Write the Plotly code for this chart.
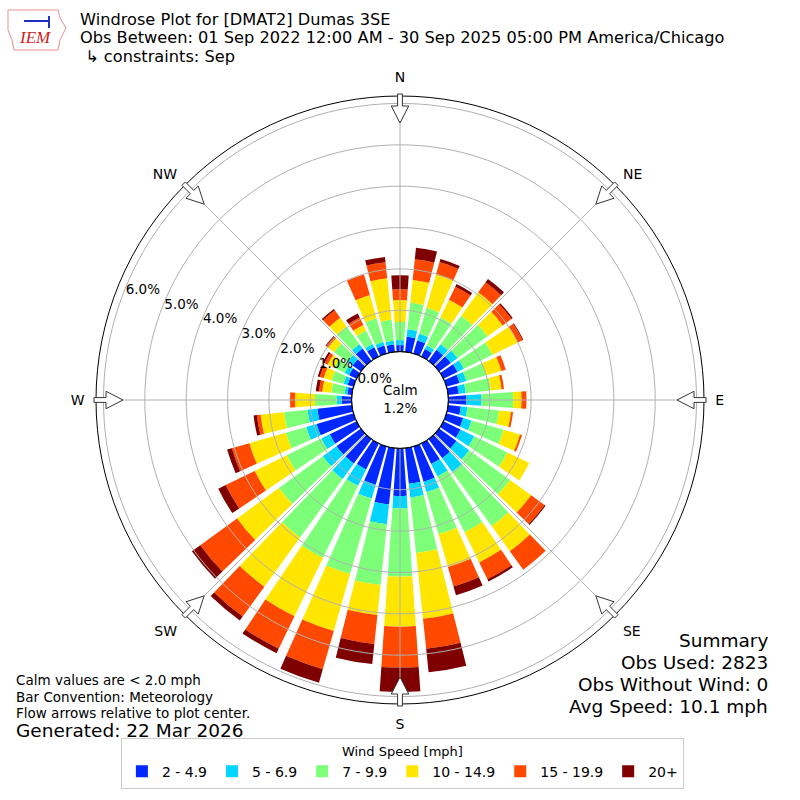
import plotly.graph_objects as go
import math

# wind directions (deg, from north, clockwise)
directions = list(range(0, 360, 10))
bins = ['2 - 4.9', '5 - 6.9', '7 - 9.9', '10 - 14.9', '15 - 19.9', '20+']
colors = ['#0028ff', '#00d4ff', '#7dff7a', '#ffe600', '#ff4800', '#7f0000']

# percent of observations per direction for each speed bin
spd_2_5 = [0.16, 0.37, 0.33, 0.20, 0.33, 0.35, 0.38, 0.33, 0.26, 0.44, 0.31, 0.42,
           0.46, 0.52, 0.57, 0.55, 0.89, 0.87, 1.15, 1.37, 0.96, 0.70, 0.73, 0.73,
           0.72, 0.93, 0.84, 0.24, 0.11, 0.15, 0.20, 0.25, 0.37, 0.25, 0.20, 0.18]
spd_5_7 = [0.12, 0.18, 0.17, 0.10, 0.17, 0.20, 0.17, 0.17, 0.17, 0.36, 0.16, 0.21,
           0.37, 0.38, 0.41, 0.34, 0.26, 0.33, 0.30, 0.48, 0.35, 0.44, 0.46, 0.41,
           0.23, 0.26, 0.24, 0.12, 0.07, 0.10, 0.12, 0.15, 0.13, 0.09, 0.09, 0.09]
spd_7_10 = [0.44, 0.65, 0.65, 0.76, 0.85, 0.90, 0.77, 0.50, 0.61, 0.77, 0.77, 0.81,
            0.89, 1.22, 1.62, 1.50, 1.06, 1.35, 1.65, 1.48, 1.90, 1.94, 1.75, 1.31,
            0.93, 0.51, 0.57, 0.53, 0.32, 0.30, 0.28, 0.40, 0.53, 0.36, 0.60, 0.51]
spd_10_15 = [0.53, 0.55, 0.84, 0.47, 0.70, 0.45, 0.68, 0.38, 0.26, 0.20, 0.29, 0.41,
             0.59, 0.63, 0.75, 0.81, 0.82, 1.60, 1.21, 0.73, 1.43, 1.57, 1.47, 1.25,
             0.86, 0.92, 0.57, 0.48, 0.22, 0.20, 0.18, 0.18, 0.26, 0.15, 0.58, 1.01]
spd_15_20 = [0.26, 0.50, 0.31, 0.35, 0.30, 0.26, 0.13, 0.11, 0.06, 0.12, 0.05, 0.05,
             0.00, 0.40, 0.55, 0.45, 0.49, 0.73, 0.99, 0.70, 0.96, 0.87, 0.89, 1.10,
             0.78, 0.44, 0.09, 0.12, 0.08, 0.10, 0.08, 0.06, 0.22, 0.20, 0.52, 0.39]
spd_20 = [0.34, 0.28, 0.08, 0.07, 0.10, 0.04, 0.02, 0.00, 0.00, 0.00, 0.00, 0.00,
          0.00, 0.03, 0.00, 0.06, 0.22, 0.57, 0.59, 0.49, 0.34, 0.12, 0.12, 0.25,
          0.20, 0.12, 0.08, 0.00, 0.08, 0.05, 0.05, 0.02, 0.04, 0.11, 0.00, 0.13]
series = [spd_2_5, spd_5_7, spd_7_10, spd_10_15, spd_15_20, spd_20]

calm_pct = 1.2
rings = [0, 1, 2, 3, 4, 5, 6]
r_max = 6.18
compass = ['N', 'NE', 'E', 'SE', 'S', 'SW', 'W', 'NW']
compass_deg = [0, 45, 90, 135, 180, 225, 270, 315]

title_lines = ['Windrose Plot for [DMAT2] Dumas 3SE',
               'Obs Between: 01 Sep 2022 12:00 AM - 30 Sep 2025 05:00 PM America/Chicago',
               ' \u21b3 constraints: Sep']
notes = ['Calm values are < 2.0 mph', 'Bar Convention: Meteorology',
         'Flow arrows relative to plot center.']
summary = ['Summary', 'Obs Used: 2823', 'Obs Without Wind: 0', 'Avg Speed: 10.1 mph']

FONT = 'DejaVu Sans'
W = 800.0
GRID = '#b0b0b0'

fig = go.Figure()
for name, vals, col in zip(bins, series, colors):
    fig.add_trace(go.Barpolar(r=vals, theta=directions, width=8, name=name,
                              marker=dict(color=col, line=dict(width=0))))

# grid drawn over the bars, like the original
circle_theta = list(range(0, 361, 2))
for rv in rings[1:]:
    fig.add_trace(go.Scatterpolar(r=[rv] * len(circle_theta), theta=circle_theta, mode='lines',
                                  line=dict(color=GRID, width=1), showlegend=False, hoverinfo='skip'))
for d in compass_deg:
    fig.add_trace(go.Scatterpolar(r=[0, r_max], theta=[d, d], mode='lines',
                                  line=dict(color=GRID, width=1), showlegend=False, hoverinfo='skip'))
# black edge of the calm hole
fig.add_trace(go.Scatterpolar(r=[0] * len(circle_theta), theta=circle_theta, mode='lines',
                              line=dict(color='black', width=1.2), showlegend=False, hoverinfo='skip'))

fig.update_layout(
    width=800, height=800,
    margin=dict(l=0, r=0, t=0, b=0),
    paper_bgcolor='white',
    font=dict(family=FONT, size=14, color='black'),
    polar=dict(
        domain=dict(x=[0.12, 0.88], y=[0.12, 0.88]),
        hole=0.159,
        bgcolor='white',
        barmode='stack',
        radialaxis=dict(range=[0, r_max], tickvals=rings,
                        ticktext=['%.1f%%' % v for v in rings],
                        angle=159, tickangle=159, showline=False, ticks='',
                        showgrid=False, layer='above traces',
                        tickfont=dict(size=13.5, color='black')),
        angularaxis=dict(rotation=90, direction='clockwise',
                         tickvals=compass_deg, ticktext=compass,
                         showline=True, linecolor='black', linewidth=1,
                         showgrid=False,
                         ticks='outside', ticklen=8, tickcolor='rgba(0,0,0,0)',
                         tickfont=dict(size=14, color='black')),
    ),
    legend=dict(orientation='h', x=0.503, xanchor='center', y=0.014, yanchor='bottom',
                title=dict(text='Wind Speed [mph]', side='top center', font=dict(size=13)),
                bordercolor='#cccccc', borderwidth=1, font=dict(size=14),
                traceorder='normal'),
)

# flow arrows on the rim, pointing to the centre
shapes = []
for d in compass_deg:
    a = math.radians(d)
    ux, uy = math.sin(a), math.cos(a)
    px, py = math.cos(a), -math.sin(a)
    outline = [(306, -2.4), (294, -2.4), (294, -8.7), (277, 0), (294, 8.7), (294, 2.4), (306, 2.4)]
    pts = [(0.5 + (r * ux + w * px) / W, 0.5 + (r * uy + w * py) / W) for r, w in outline]
    path = 'M ' + ' L '.join('%.5f,%.5f' % p for p in pts) + ' Z'
    shapes.append(dict(type='path', path=path, xref='paper', yref='paper',
                       fillcolor='white', line=dict(color='#333333', width=1), layer='above'))

# rough IEM logo outline
logo = [(8, 10), (58, 10), (60, 18), (66, 28), (60, 40), (58, 50), (14, 50), (12, 40), (8, 30)]
shapes.append(dict(type='path', xref='paper', yref='paper',
                   path='M ' + ' L '.join('%.5f,%.5f' % (x / W, 1 - y / W) for x, y in logo) + ' Z',
                   line=dict(color='#e89090', width=1), fillcolor='rgba(0,0,0,0)'))
shapes.append(dict(type='line', xref='paper', yref='paper', x0=24 / W, x1=50 / W,
                   y0=1 - 21 / W, y1=1 - 21 / W, line=dict(color='#2030c0', width=2)))
shapes.append(dict(type='line', xref='paper', yref='paper', x0=49 / W, x1=49 / W,
                   y0=1 - 16 / W, y1=1 - 28 / W, line=dict(color='#2030c0', width=2)))
fig.update_layout(shapes=shapes)

ann = []
for i, t in enumerate(title_lines):
    ann.append(dict(text=t, x=78 / W, y=1 - (19 + 18.5 * i) / W, xanchor='left', yanchor='middle',
                    font=dict(size=16.2)))
for i, t in enumerate(notes):
    ann.append(dict(text=t, x=14 / W, y=1 - (680 + 16.5 * i) / W, xanchor='left', yanchor='middle',
                    font=dict(size=13.5)))
ann.append(dict(text='Generated: 22 Mar 2026', x=14 / W, y=1 - 730 / W, xanchor='left',
                yanchor='middle', font=dict(size=18.5)))
for i, t in enumerate(summary):
    ann.append(dict(text=t, x=770 / W, y=1 - (640 + 22 * i) / W, xanchor='right', yanchor='middle',
                    font=dict(size=18.5)))
ann.append(dict(text='Calm<br>%.1f%%' % calm_pct, x=0.5, y=1 - 399 / W, xanchor='center',
                yanchor='middle', font=dict(size=13.5)))
ann.append(dict(text='<i>IEM</i>', x=35 / W, y=1 - 38 / W, xanchor='center', yanchor='middle',
                font=dict(size=17, color='#d02020', family='Liberation Serif')))
for a in ann:
    a.update(xref='paper', yref='paper', showarrow=False)
fig.update_layout(annotations=ann)

fig.write_html('out.html', config={'displayModeBar': False},
               post_script="document.body.style.margin='0px';")
